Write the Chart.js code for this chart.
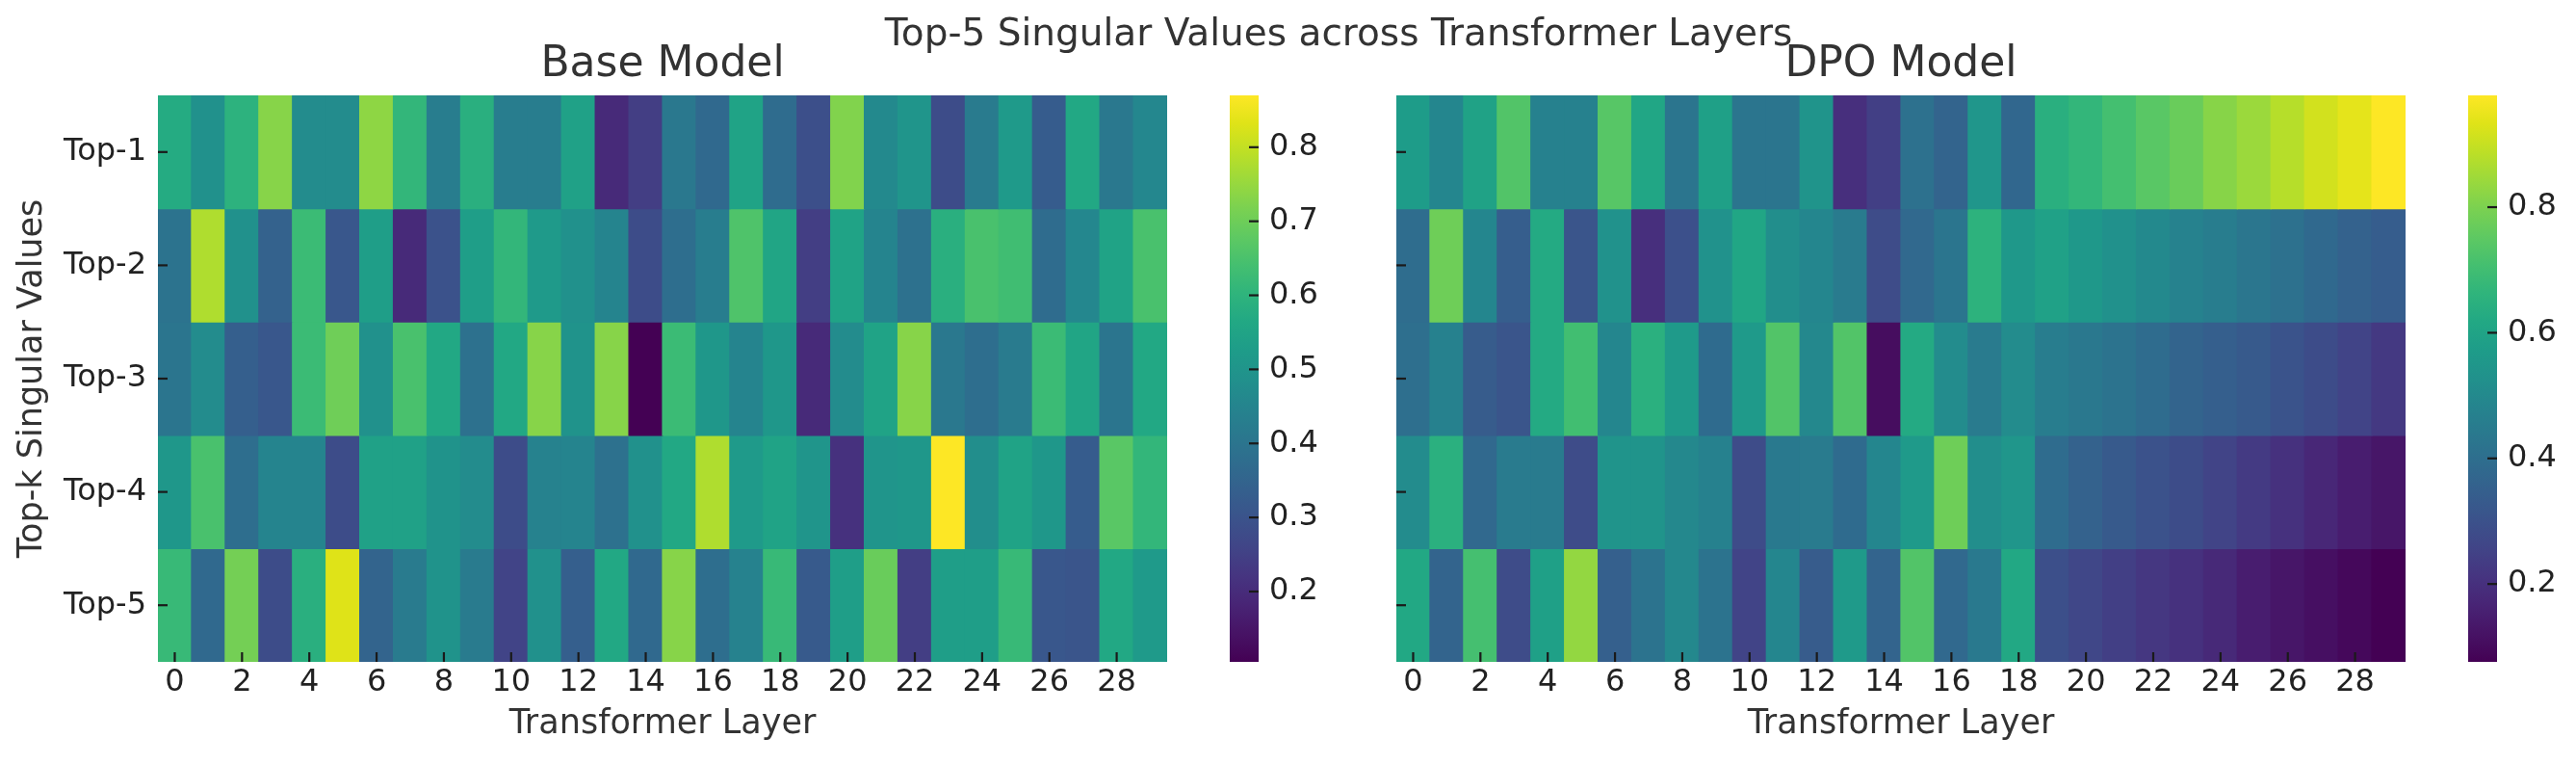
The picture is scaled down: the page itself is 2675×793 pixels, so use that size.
<!DOCTYPE html>
<html>
<head>
<meta charset="utf-8">
<script src="https://cdn.jsdelivr.net/npm/chart.js@4.4.1/dist/chart.umd.min.js"></script>
<style>
html, body { margin: 0; padding: 0; background: #ffffff; }
#wrap { position: relative; width: 2675px; height: 793px; overflow: hidden; background: #ffffff; }
#wrap canvas { position: absolute; left: 0; top: 0; }
#suptitle { position: absolute; left: 1390px; top: 12px; transform: translateX(-50%); white-space: nowrap;
  font-family: 'DejaVu Sans', sans-serif; font-size: 39px; line-height: 44px; color: #333333; }
</style>
</head>
<body>
<div id="wrap">
  <canvas id="baseHeat" width="2675" height="793"></canvas>
  <canvas id="baseBar" width="2675" height="793"></canvas>
  <canvas id="dpoHeat" width="2675" height="793"></canvas>
  <canvas id="dpoBar" width="2675" height="793"></canvas>
  <div id="suptitle">Top-5 Singular Values across Transformer Layers</div>
</div>
<script>
// ---------------- data ----------------
const layers = ['0','1','2','3','4','5','6','7','8','9','10','11','12','13','14','15','16','17','18','19','20','21','22','23','24','25','26','27','28','29'];
const rowLabels = ['Top-1', 'Top-2', 'Top-3', 'Top-4', 'Top-5'];

const baseTop1 = [0.572,0.488,0.595,0.732,0.472,0.472,0.740,0.610,0.426,0.587,0.426,0.426,0.541,0.197,0.243,0.411,0.365,0.549,0.373,0.289,0.725,0.465,0.503,0.281,0.419,0.518,0.327,0.564,0.411,0.457];
const baseTop2 = [0.396,0.778,0.488,0.342,0.625,0.312,0.533,0.197,0.296,0.533,0.610,0.518,0.488,0.449,0.281,0.380,0.426,0.656,0.556,0.243,0.549,0.449,0.388,0.587,0.648,0.633,0.373,0.457,0.549,0.648];
const baseTop3 = [0.403,0.472,0.335,0.312,0.625,0.702,0.488,0.648,0.564,0.388,0.564,0.732,0.495,0.732,0.105,0.625,0.510,0.449,0.510,0.197,0.472,0.549,0.732,0.411,0.380,0.419,0.625,0.556,0.403,0.564];
const baseTop4 = [0.510,0.648,0.380,0.449,0.449,0.281,0.541,0.541,0.495,0.472,0.281,0.442,0.449,0.388,0.488,0.564,0.778,0.518,0.549,0.503,0.212,0.503,0.510,0.870,0.480,0.549,0.510,0.327,0.671,0.610];
const baseTop5 = [0.618,0.365,0.709,0.281,0.587,0.832,0.350,0.419,0.495,0.419,0.258,0.488,0.335,0.564,0.365,0.732,0.380,0.442,0.618,0.319,0.533,0.694,0.243,0.533,0.533,0.618,0.312,0.304,0.564,0.518];

const dpoTop1 = [0.572,0.488,0.595,0.732,0.472,0.472,0.740,0.610,0.426,0.587,0.426,0.426,0.541,0.197,0.243,0.411,0.365,0.549,0.373,0.644,0.671,0.707,0.743,0.771,0.816,0.843,0.879,0.915,0.942,0.978];
const dpoTop2 = [0.396,0.778,0.488,0.342,0.625,0.312,0.533,0.197,0.296,0.533,0.610,0.518,0.488,0.449,0.281,0.380,0.426,0.656,0.556,0.590,0.554,0.527,0.500,0.473,0.455,0.428,0.410,0.383,0.356,0.338];
const dpoTop3 = [0.403,0.472,0.335,0.312,0.625,0.702,0.488,0.648,0.564,0.388,0.564,0.732,0.495,0.732,0.105,0.625,0.510,0.449,0.510,0.455,0.437,0.419,0.392,0.365,0.347,0.329,0.306,0.283,0.256,0.225];
const dpoTop4 = [0.510,0.648,0.380,0.449,0.449,0.281,0.541,0.541,0.495,0.472,0.281,0.442,0.449,0.388,0.488,0.564,0.778,0.518,0.549,0.392,0.356,0.329,0.302,0.283,0.256,0.229,0.202,0.175,0.148,0.130];
const dpoTop5 = [0.618,0.365,0.709,0.281,0.587,0.832,0.350,0.419,0.495,0.419,0.258,0.488,0.335,0.564,0.365,0.732,0.380,0.442,0.618,0.292,0.265,0.243,0.220,0.202,0.180,0.148,0.130,0.112,0.094,0.076];

const baseBarTicks = [0.2, 0.3, 0.4, 0.5, 0.6, 0.7, 0.8];
const dpoBarTicks = [0.2, 0.4, 0.6, 0.8];

// ---------------- colormap ----------------
const VIRIDIS = ['#440154','#471365','#482475','#463480','#414487','#3b528b','#355f8d','#2f6c8e','#2a788e','#25848e',
  '#21918c','#1e9c89','#22a884','#2fb47c','#44bf70','#5ec962','#7ad151','#9bd93c','#bddf26','#dfe318','#fde725'];
function hexRgb(h) { return [parseInt(h.slice(1,3),16), parseInt(h.slice(3,5),16), parseInt(h.slice(5,7),16)]; }
const VIR_RGB = VIRIDIS.map(hexRgb);
function viridis(t) {
  t = Math.max(0, Math.min(1, t));
  const n = VIR_RGB.length - 1;
  const f = t * n; const i = Math.min(n - 1, Math.floor(f)); const u = f - i;
  const a = VIR_RGB[i], b = VIR_RGB[i + 1];
  const c = a.map((v, k) => Math.round(v + (b[k] - v) * u));
  return 'rgb(' + c.join(',') + ')';
}

// ---------------- layout constants ----------------
const W = 2675, H = 793;
const TOP = 99, BOTTOM = 687;
const TICK_COLOR = '#222222';
const LABEL_COLOR = '#333333';
const TICK_FONT = 32, AXIS_FONT = 35, TITLE_FONT = 44;

Chart.defaults.font.family = "'DejaVu Sans', sans-serif";
Chart.defaults.color = TICK_COLOR;
Chart.defaults.animation = false;

const inwardTicks = {
  id: 'inwardTicks',
  afterDatasetsDraw(chart, args, opts) {
    const { ctx, chartArea: a } = chart;
    ctx.save();
    ctx.strokeStyle = '#1a1a1a';
    ctx.lineWidth = 2.2;
    (opts.axes || []).forEach(id => {
      const s = chart.scales[id];
      s.ticks.forEach((t, i) => {
        const p = s.getPixelForTick(i);
        ctx.beginPath();
        if (s.position === 'bottom') { ctx.moveTo(p, a.bottom); ctx.lineTo(p, a.bottom - 10); }
        else if (s.position === 'left') { ctx.moveTo(a.left, p); ctx.lineTo(a.left + 10, p); }
        else { ctx.moveTo(a.right, p); ctx.lineTo(a.right - 10, p); }
        ctx.stroke();
      });
    });
    ctx.restore();
  }
};

function heatmap(id, rows, title, left, right, yWidth, showYLabels) {
  const all = rows.flat();
  const vmin = Math.min(...all), vmax = Math.max(...all);
  const datasets = rows.map((vals, r) => ({
    label: rowLabels[r],
    data: vals.map(() => [r - 0.5, r + 0.5]),
    backgroundColor: vals.map(v => viridis((v - vmin) / (vmax - vmin))),
    borderWidth: 0,
    barPercentage: 1,
    categoryPercentage: 1,
    grouped: false,
    inflateAmount: 0.6
  }));
  const titleLH = TITLE_FONT * 1.2;
  new Chart(document.getElementById(id), {
    type: 'bar',
    data: { labels: layers, datasets },
    options: {
      responsive: false,
      devicePixelRatio: 1,
      animation: false,
      events: [],
      layout: { padding: { left: left - yWidth, right: W - right, top: 0, bottom: 0 } },
      plugins: {
        legend: { display: false },
        tooltip: { enabled: false },
        title: {
          display: true, text: title, fullSize: false, color: LABEL_COLOR,
          font: { size: TITLE_FONT, weight: 'normal' },
          padding: { top: 68 - titleLH / 2, bottom: TOP - 68 - titleLH / 2 }
        },
        inwardTicks: { axes: ['x', 'y'] }
      },
      scales: {
        x: {
          type: 'category', offset: true,
          grid: { display: false, drawTicks: false }, border: { display: false },
          ticks: { autoSkip: false, maxRotation: 0, minRotation: 0, padding: 2, font: { size: TICK_FONT }, color: TICK_COLOR },
          afterBuildTicks: s => { s.ticks = s.ticks.filter(t => t.value % 2 === 0); },
          afterFit: s => { s.height = H - BOTTOM; },
          title: { display: true, text: 'Transformer Layer', color: LABEL_COLOR, font: { size: AXIS_FONT }, padding: { top: 0, bottom: 20 } }
        },
        y: {
          type: 'linear', min: -0.5, max: 4.5, reverse: true,
          grid: { display: false, drawTicks: false }, border: { display: false },
          afterBuildTicks: s => { s.ticks = rowLabels.map((_, i) => ({ value: i })); },
          ticks: { callback: v => showYLabels ? rowLabels[v] : '', padding: 12, font: { size: TICK_FONT }, color: TICK_COLOR },
          afterFit: s => { s.width = yWidth; },
          title: { display: showYLabels, text: 'Top-k Singular Values', color: LABEL_COLOR, font: { size: AXIS_FONT }, padding: { top: 13, bottom: 0 } }
        }
      }
    },
    plugins: [inwardTicks]
  });
  return { vmin, vmax };
}

function colorbar(id, vmin, vmax, tickVals, left) {
  const barW = 30, axisW = 110;
  new Chart(document.getElementById(id), {
    type: 'bar',
    data: {
      labels: ['cb'],
      datasets: [{
        data: [[vmin, vmax]],
        backgroundColor: c => {
          const ch = c.chart, a = ch.chartArea;
          if (!a) return '#21918c';
          const g = ch.ctx.createLinearGradient(0, a.bottom, 0, a.top);
          VIRIDIS.forEach((col, i) => g.addColorStop(i / (VIRIDIS.length - 1), col));
          return g;
        },
        borderWidth: 0, barPercentage: 1, categoryPercentage: 1, inflateAmount: 0
      }]
    },
    options: {
      responsive: false,
      devicePixelRatio: 1,
      animation: false,
      events: [],
      layout: { padding: { left: left, right: W - left - barW - axisW, top: TOP, bottom: H - BOTTOM } },
      plugins: { legend: { display: false }, tooltip: { enabled: false }, title: { display: false }, inwardTicks: { axes: ['y'] } },
      scales: {
        x: { display: false, offset: true },
        y: {
          position: 'right', min: vmin, max: vmax,
          grid: { display: false, drawTicks: false }, border: { display: false },
          afterBuildTicks: s => { s.ticks = tickVals.map(v => ({ value: v })); },
          ticks: { callback: v => v.toFixed(1), padding: 11, font: { size: TICK_FONT }, color: TICK_COLOR },
          afterFit: s => { s.width = axisW; }
        }
      }
    },
    plugins: [inwardTicks]
  });
}

const b = heatmap('baseHeat', [baseTop1, baseTop2, baseTop3, baseTop4, baseTop5], 'Base Model', 164, 1212, 164, true);
colorbar('baseBar', b.vmin, b.vmax, baseBarTicks, 1277);
const d = heatmap('dpoHeat', [dpoTop1, dpoTop2, dpoTop3, dpoTop4, dpoTop5], 'DPO Model', 1450, 2498, 20, false);
colorbar('dpoBar', d.vmin, d.vmax, dpoBarTicks, 2563);
</script>
</body>
</html>
